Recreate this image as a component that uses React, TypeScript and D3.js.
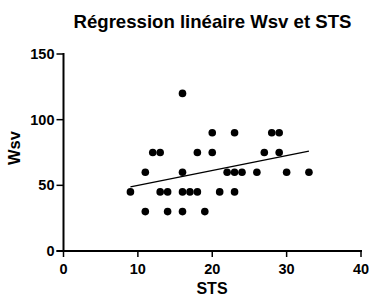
import React from 'react';
import * as d3 from 'd3';

// STS / Wsv pairs
const stsValues = [9, 11, 11, 12, 13, 13, 14, 14, 16, 16, 16, 16, 17, 18, 18, 19, 20, 20, 21, 22, 23, 23, 23, 24, 26, 27, 28, 29, 29, 30, 33];
const wsvValues = [45, 30, 60, 75, 75, 45, 45, 30, 120, 60, 45, 30, 45, 75, 45, 30, 90, 75, 45, 60, 90, 60, 45, 60, 60, 75, 90, 90, 75, 60, 60];
const xTicks = [0, 10, 20, 30, 40];
const yTicks = [0, 50, 100, 150];

const width = 369;
const height = 295;
const font = "'Liberation Sans', Arial, sans-serif";

export default function App() {
  const x = d3.scaleLinear().domain([0, 40]).range([63.5, 361]);
  const y = d3.scaleLinear().domain([0, 150]).range([251, 54]);

  const pts = stsValues.map((s, i) => ({ s, w: wsvValues[i] }));

  // least squares fit
  const mx = d3.mean(stsValues) as number;
  const my = d3.mean(wsvValues) as number;
  let num = 0, den = 0;
  pts.forEach(p => { num += (p.s - mx) * (p.w - my); den += (p.s - mx) * (p.s - mx); });
  const slope = num / den;
  const icpt = my - slope * mx;
  const x0 = d3.min(stsValues) as number;
  const x1 = d3.max(stsValues) as number;
  const line = d3.line<number>().x(d => x(d)).y(d => y(icpt + slope * d));

  return (
    <svg width={width} height={height} style={{ position: 'absolute', left: 0, top: 0 }}
      fontFamily={font} fontWeight="bold">
      <rect width={width} height={height} fill="#fff" />
      <text x={212.5} y={28} textAnchor="middle" fontSize={18.6}>Régression linéaire Wsv et STS</text>

      {/* y axis */}
      <line x1={x(0)} x2={x(0)} y1={y(150) - 1} y2={y(0)} stroke="#000" strokeWidth={2} />
      {yTicks.map(t => (
        <g key={t}>
          <line x1={x(0) - 7} x2={x(0)} y1={y(t)} y2={y(t)} stroke="#000" strokeWidth={1.5} />
          <text x={x(0) - 9} y={y(t)} dy="0.35em" textAnchor="end" fontSize={14.5}>{t}</text>
        </g>
      ))}
      <text transform={`translate(20,148) rotate(-90)`} textAnchor="middle" fontSize={16.5}>Wsv</text>

      {/* x axis */}
      <line x1={x(0) - 7} x2={x(40) + 1} y1={y(0)} y2={y(0)} stroke="#000" strokeWidth={2} />
      {xTicks.map(t => (
        <g key={t}>
          <line x1={x(t)} x2={x(t)} y1={y(0)} y2={y(0) + 6} stroke="#000" strokeWidth={1.5} />
          <text x={x(t)} y={274} textAnchor="middle" fontSize={14.5}>{t}</text>
        </g>
      ))}
      <text x={212} y={293.5} textAnchor="middle" fontSize={16}>STS</text>

      <path d={line([x0, x1]) || ''} fill="none" stroke="#000" strokeWidth={1.5} />
      {pts.map((p, i) => (
        <circle key={i} cx={x(p.s)} cy={y(p.w)} r={3.8} fill="#000" />
      ))}
    </svg>
  );
}
